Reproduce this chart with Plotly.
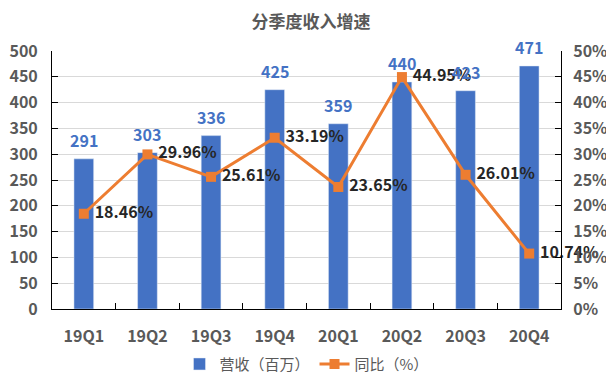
import plotly.graph_objects as go

categories = ["19Q1", "19Q2", "19Q3", "19Q4", "20Q1", "20Q2", "20Q3", "20Q4"]
revenue = [291, 303, 336, 425, 359, 440, 423, 471]
yoy = [18.46, 29.96, 25.61, 33.19, 23.65, 44.95, 26.01, 10.74]
left_ticks = [0, 50, 100, 150, 200, 250, 300, 350, 400, 450, 500]
right_ticks = [0, 5, 10, 15, 20, 25, 30, 35, 40, 45, 50]

FONT = "Noto Sans CJK SC"
GREY = "#595959"
BLUE = "#4472C4"
ORANGE = "#ED7D31"

fig = go.Figure()
fig.add_trace(go.Bar(
    x=categories, y=revenue, name="营收（百万）",
    marker_color=BLUE, width=0.31,
))
fig.add_trace(go.Scatter(
    x=categories, y=yoy, name="同比（%）", yaxis="y2",
    mode="lines+markers+text",
    line=dict(color=ORANGE, width=3),
    marker=dict(symbol="square", size=10, color=ORANGE),
    text=[f" {v:.2f}%" for v in yoy], textposition="middle right",
    textfont=dict(color="#262626", size=16, family=FONT, weight="bold"),
    cliponaxis=False,
))

for c, v in zip(categories, revenue):
    fig.add_annotation(
        x=c, y=v, xref="x", yref="y", text=f"<b>{v}</b>", showarrow=False,
        yanchor="middle", yshift=19,
        font=dict(color=BLUE, size=16, family=FONT),
    )

fig.update_layout(
    width=606, height=365,
    margin=dict(l=44, r=53, t=43, b=64, autoexpand=False),
    paper_bgcolor="white", plot_bgcolor="white",
    font=dict(family=FONT, color=GREY, size=13),
    title=dict(text="<b>分季度收入增速</b>", x=0.5, xanchor="center", y=0.962, yanchor="middle",
               font=dict(size=17, color=GREY, family=FONT)),
    xaxis=dict(
        showline=True, linecolor="black", linewidth=1,
        ticks="inside", tickson="boundaries", ticklen=6, tickcolor="black",
        ticklabelstandoff=13, automargin=False,
        tickfont=dict(size=16, color=GREY, family=FONT, weight="bold"),
        showgrid=False,
    ),
    yaxis=dict(
        range=[0, 500], tickvals=left_ticks,
        showline=True, linecolor="black", linewidth=1,
        ticks="inside", ticklen=6, tickcolor="black",
        ticklabelstandoff=10, automargin=False,
        gridcolor="#D9D9D9", gridwidth=1,
        tickfont=dict(size=16, color=GREY, family=FONT, weight="bold"),
        zeroline=False,
    ),
    yaxis2=dict(
        range=[0, 50], tickvals=right_ticks, ticktext=[f"{v}%" for v in right_ticks],
        overlaying="y", side="right",
        showline=True, linecolor="black", linewidth=1,
        ticks="inside", ticklen=6, tickcolor="black",
        ticklabelstandoff=8, automargin=False,
        showgrid=False, zeroline=False,
        tickfont=dict(size=16, color=GREY, family=FONT, weight="bold"),
    ),
    legend=dict(
        orientation="h", x=0.5, xanchor="center", y=-0.214, yanchor="middle",
        font=dict(size=15, color=GREY, family=FONT),
        itemwidth=30,
    ),
    showlegend=True,
)

fig.write_html("out.html")
